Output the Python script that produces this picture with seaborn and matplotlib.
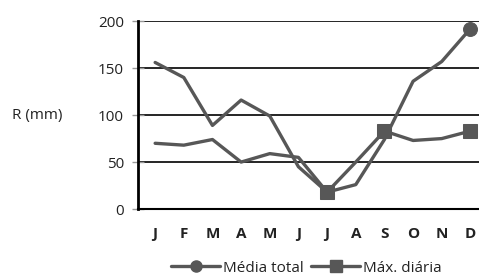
import matplotlib
matplotlib.use("Agg")
import matplotlib.pyplot as plt
import seaborn as sns
import pandas as pd
from matplotlib.lines import Line2D

months = ["J", "F", "M", "A", "M", "J", "J", "A", "S", "O", "N", "D"]
media_total = [156, 140, 89, 116, 99, 45, 18, 26, 74, 136, 157, 192]
max_diaria = [70, 68, 74, 50, 59, 55, 18, 50, 83, 73, 75, 83]
series_names = ["Média total", "Máx. diária"]

sns.set_theme(style="white")
plt.rcParams['font.family'] = ['Open Sans', 'DejaVu Sans']

fig = plt.figure(figsize=(4.79, 2.78), dpi=100)
ax = fig.add_axes([0.288, 0.248, 0.712, 0.676])

idx = list(range(len(months)))
df = pd.DataFrame({
    "x": idx * 2,
    "y": media_total + max_diaria,
    "s": [series_names[0]] * 12 + [series_names[1]] * 12,
})
col = "#575757"
sns.lineplot(data=df, x="x", y="y", hue="s", palette=[col, col], ax=ax,
             linewidth=2.4, legend=False)
lines = ax.get_lines()
lines[0].set_marker("o"); lines[0].set_markevery([11]); lines[0].set_markersize(10)
lines[1].set_marker("s"); lines[1].set_markevery([6, 8, 11]); lines[1].set_markersize(10)
for l in lines[:2]:
    l.set_markerfacecolor(col); l.set_markeredgecolor(col)

ax.set_xlim(-0.6, 11.3)
ax.set_ylim(0, 200)
ax.set_yticks([0, 50, 100, 150, 200])
ax.set_xticks(idx)
ax.set_xticklabels(months, fontweight="bold")
for v in [50, 100, 150, 200]:
    ax.axhline(v, color="black", linewidth=1.2, zorder=0)
for s in ["top", "right"]:
    ax.spines[s].set_visible(False)
ax.spines["left"].set_color("black"); ax.spines["left"].set_linewidth(2)
ax.spines["bottom"].set_color("black"); ax.spines["bottom"].set_linewidth(1.5)
ax.tick_params(axis="y", left=True, direction="inout", length=8, width=1,
               color="#999", labelsize=11, pad=6, labelcolor="#222")
ax.tick_params(axis="x", bottom=False, labelsize=11, pad=7, labelcolor="#222")
ax.set_xlabel("")
ax.set_ylabel("R (mm)", rotation=0, fontsize=11, labelpad=0, color="#222",
              va="center", ha="center")
ax.yaxis.set_label_coords(-0.295, 0.5)

handles = [Line2D([], [], color=col, marker="o", markersize=8, linewidth=2.4),
           Line2D([], [], color=col, marker="s", markersize=8, linewidth=2.4)]
fig.legend(handles, series_names, loc="center", bbox_to_anchor=(0.64, 0.035),
           ncol=2, frameon=False, fontsize=11, handlelength=3.2, handletextpad=0.2,
           columnspacing=0.5, labelcolor="#222")

fig.savefig("out.png", dpi=100)
